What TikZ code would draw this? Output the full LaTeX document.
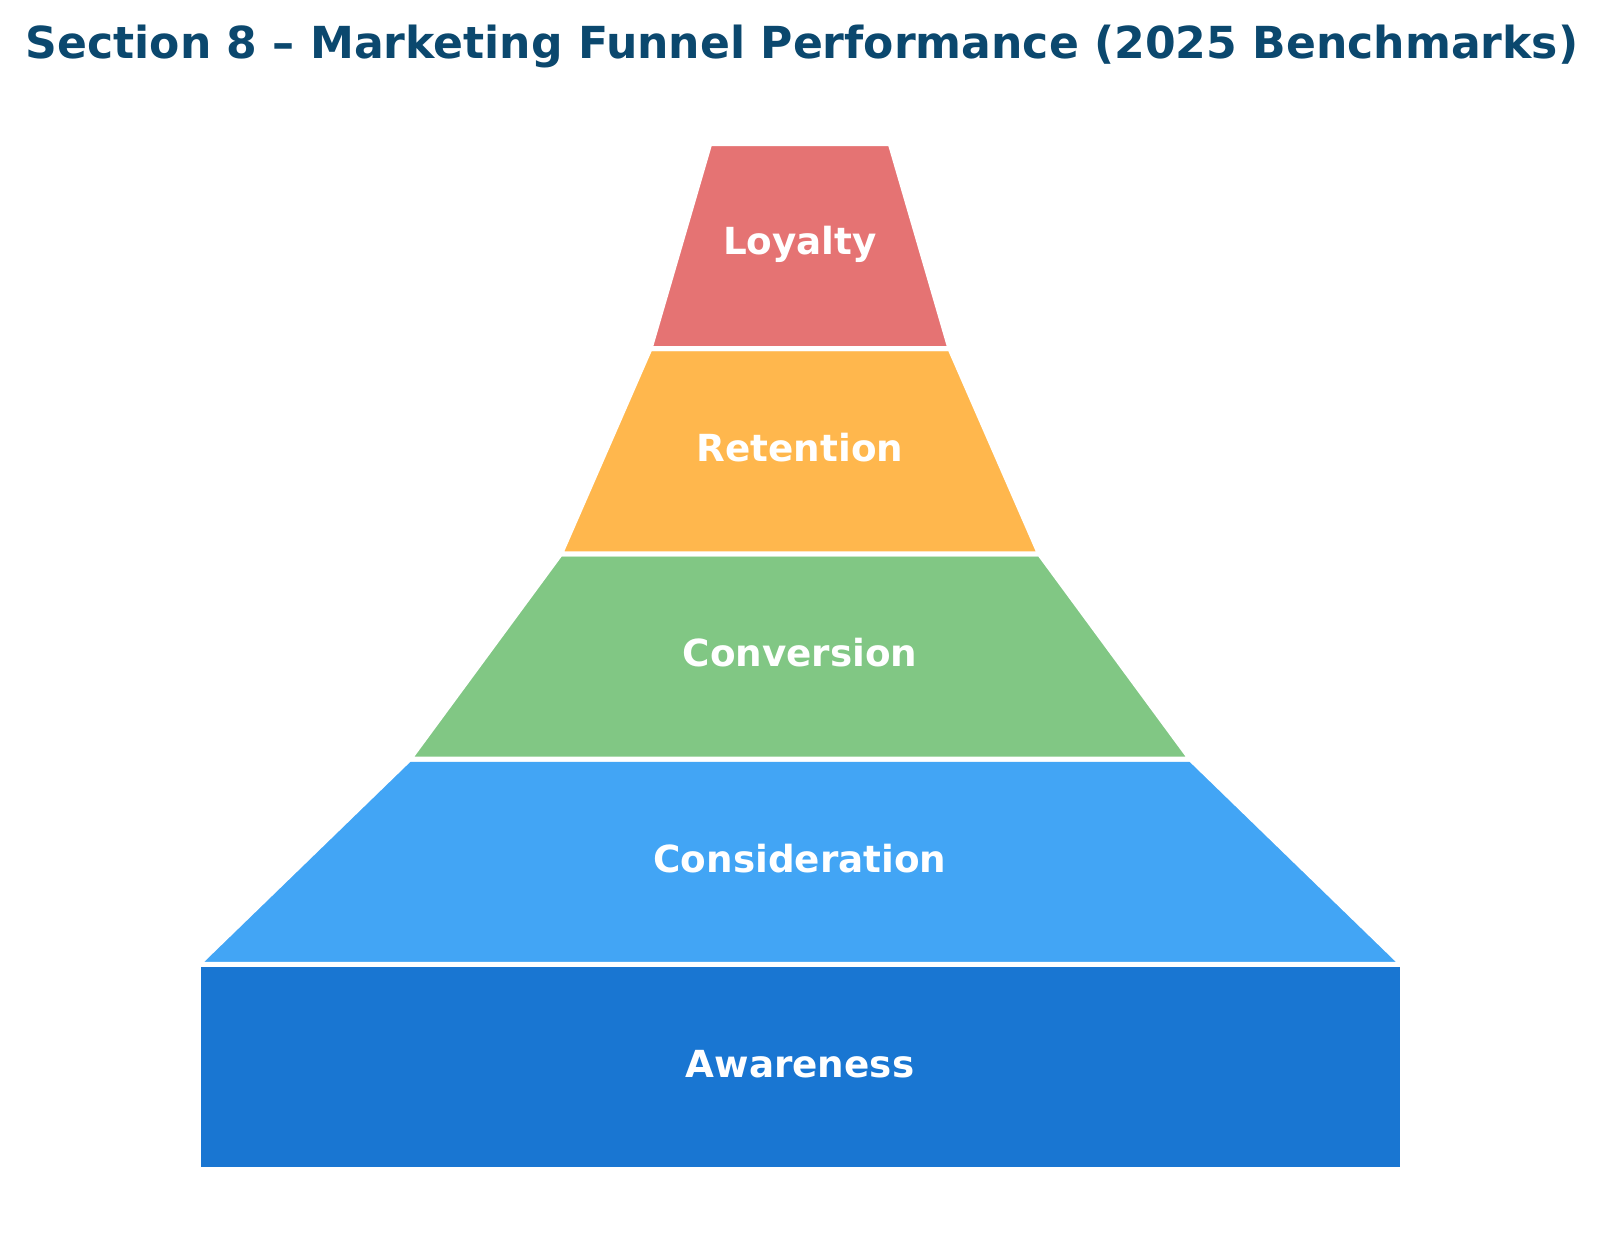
\documentclass[tikz,border=0pt]{standalone}
\usepackage{fontspec}
\setmainfont{DejaVu Sans}
\definecolor{loycol}{HTML}{E57373}
\definecolor{retcol}{HTML}{FFB74D}
\definecolor{concol}{HTML}{81C784}
\definecolor{cnscol}{HTML}{42A5F5}
\definecolor{awacol}{HTML}{1976D2}
\definecolor{titlecol}{HTML}{0B486E}
\begin{document}
\begin{tikzpicture}[x=1pt,y=-1pt,
  seg/.style={draw=white,line width=5pt,line join=miter},
  lbl/.style={text=white,font=\fontsize{37.3}{44}\selectfont\bfseries,inner sep=0pt},
  ttl/.style={text=titlecol,font=\fontsize{44.1}{52}\selectfont\bfseries,inner sep=0pt}]
\useasboundingbox[fill=white] (0,0) rectangle (1600,1245);
\node[ttl,anchor=base] (title) at (802,58.5) {Section 8 – Marketing Funnel Performance (2025 Benchmarks)};
\path[seg,fill=awacol] (198,964.3) -- (1402,964.3) -- (1402,1169.5) -- (198,1169.5) -- cycle;
\path[seg,fill=cnscol] (409.5,759.1) -- (1190.5,759.1) -- (1402,964.3) -- (198,964.3) -- cycle;
\path[seg,fill=concol] (560.5,553.9) -- (1039.5,553.9) -- (1190.5,759.1) -- (409.5,759.1) -- cycle;
\path[seg,fill=retcol] (650,348.7) -- (950,348.7) -- (1039.5,553.9) -- (560.5,553.9) -- cycle;
\path[seg,fill=loycol] (709.8,143.5) -- (890.2,143.5) -- (950,348.7) -- (650,348.7) -- cycle;
\node[lbl] (loyalty) at (800,244.6) {Loyalty};
\node[lbl] (retention) at (800,447.8) {Retention};
\node[lbl] (conversion) at (800,653) {Conversion};
\node[lbl] (consideration) at (800,858.2) {Consideration};
\node[lbl] (awareness) at (800,1064.4) {Awareness};
\end{tikzpicture}
\end{document}
